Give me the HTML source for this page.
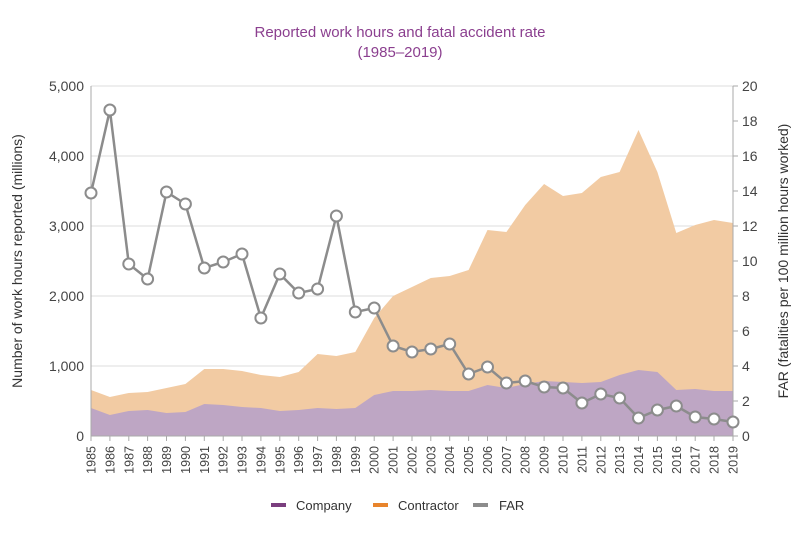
<!DOCTYPE html>
<html><head><meta charset="utf-8"><style>body{margin:0;background:#fff}svg{font-family:"Liberation Sans",Arial,sans-serif}</style></head><body>
<svg width="800" height="533" viewBox="0 0 800 533" xmlns="http://www.w3.org/2000/svg">
<rect width="800" height="533" fill="#fff"/>
<text x="400" y="37" text-anchor="middle" font-size="15" fill="#8b3f8f">Reported work hours and fatal accident rate</text>
<text x="400" y="57" text-anchor="middle" font-size="15" fill="#8b3f8f">(1985–2019)</text>
<g stroke="#dcdcdc" stroke-width="1">
<line x1="91" x2="733" y1="86" y2="86"/><line x1="91" x2="733" y1="156" y2="156"/><line x1="91" x2="733" y1="226" y2="226"/><line x1="91" x2="733" y1="296" y2="296"/><line x1="91" x2="733" y1="366" y2="366"/>
</g>
<path fill="#f2cba3" d="M91,390 L109.9,397 128.8,393 147.6,392 166.5,388 185.4,384 204.3,369 223.2,369 242,371 260.9,375 279.8,377 298.7,372 317.6,354 336.4,356 355.3,352 374.2,318 393.1,296 412,287 430.8,278 449.7,276 468.6,270 487.5,230 506.4,232 525.2,205 544.1,184 563,196 581.9,193 600.8,177 619.6,172 638.5,130 657.4,172 676.3,233 695.2,225 714,220 733,223 L733,436 91,436Z"/>
<path fill="#bea6c4" d="M91,408 L109.9,415 128.8,411 147.6,410 166.5,413 185.4,412 204.3,404 223.2,405 242,407 260.9,408 279.8,411 298.7,410 317.6,408 336.4,409 355.3,408 374.2,395 393.1,391 412,391 430.8,390 449.7,391 468.6,391 487.5,385 506.4,388 525.2,384 544.1,381 563,382 581.9,383 600.8,382 619.6,375 638.5,370 657.4,372 676.3,390 695.2,389 714,391 733,391 L733,436 91,436Z"/>
<line x1="91" x2="91" y1="86" y2="436" stroke="#aaa"/>
<line x1="733" x2="733" y1="86" y2="436" stroke="#aaa"/>
<line x1="91" x2="733" y1="436" y2="436" stroke="#aaa"/>
<g stroke="#aaa">
<line x1="91" x2="91" y1="436" y2="441"/><line x1="109.9" x2="109.9" y1="436" y2="441"/><line x1="128.8" x2="128.8" y1="436" y2="441"/><line x1="147.6" x2="147.6" y1="436" y2="441"/><line x1="166.5" x2="166.5" y1="436" y2="441"/><line x1="185.4" x2="185.4" y1="436" y2="441"/><line x1="204.3" x2="204.3" y1="436" y2="441"/><line x1="223.2" x2="223.2" y1="436" y2="441"/><line x1="242" x2="242" y1="436" y2="441"/><line x1="260.9" x2="260.9" y1="436" y2="441"/><line x1="279.8" x2="279.8" y1="436" y2="441"/><line x1="298.7" x2="298.7" y1="436" y2="441"/><line x1="317.6" x2="317.6" y1="436" y2="441"/><line x1="336.4" x2="336.4" y1="436" y2="441"/><line x1="355.3" x2="355.3" y1="436" y2="441"/><line x1="374.2" x2="374.2" y1="436" y2="441"/><line x1="393.1" x2="393.1" y1="436" y2="441"/><line x1="412" x2="412" y1="436" y2="441"/><line x1="430.8" x2="430.8" y1="436" y2="441"/><line x1="449.7" x2="449.7" y1="436" y2="441"/><line x1="468.6" x2="468.6" y1="436" y2="441"/><line x1="487.5" x2="487.5" y1="436" y2="441"/><line x1="506.4" x2="506.4" y1="436" y2="441"/><line x1="525.2" x2="525.2" y1="436" y2="441"/><line x1="544.1" x2="544.1" y1="436" y2="441"/><line x1="563" x2="563" y1="436" y2="441"/><line x1="581.9" x2="581.9" y1="436" y2="441"/><line x1="600.8" x2="600.8" y1="436" y2="441"/><line x1="619.6" x2="619.6" y1="436" y2="441"/><line x1="638.5" x2="638.5" y1="436" y2="441"/><line x1="657.4" x2="657.4" y1="436" y2="441"/><line x1="676.3" x2="676.3" y1="436" y2="441"/><line x1="695.2" x2="695.2" y1="436" y2="441"/><line x1="714" x2="714" y1="436" y2="441"/><line x1="733" x2="733" y1="436" y2="441"/>
<line x1="733" x2="738" y1="86" y2="86"/><line x1="733" x2="738" y1="121" y2="121"/><line x1="733" x2="738" y1="156" y2="156"/><line x1="733" x2="738" y1="191" y2="191"/><line x1="733" x2="738" y1="226" y2="226"/><line x1="733" x2="738" y1="261" y2="261"/><line x1="733" x2="738" y1="296" y2="296"/><line x1="733" x2="738" y1="331" y2="331"/><line x1="733" x2="738" y1="366" y2="366"/><line x1="733" x2="738" y1="401" y2="401"/><line x1="733" x2="738" y1="436" y2="436"/>
</g>
<g font-size="14" fill="#444" text-anchor="end">
<text x="84" y="91">5,000</text><text x="84" y="161">4,000</text><text x="84" y="231">3,000</text><text x="84" y="301">2,000</text><text x="84" y="371">1,000</text><text x="84" y="441">0</text>
</g>
<g font-size="14" fill="#444" text-anchor="start">
<text x="742" y="91">20</text><text x="742" y="126">18</text><text x="742" y="161">16</text><text x="742" y="196">14</text><text x="742" y="231">12</text><text x="742" y="266">10</text><text x="742" y="301">8</text><text x="742" y="336">6</text><text x="742" y="371">4</text><text x="742" y="406">2</text><text x="742" y="441">0</text>
</g>
<text transform="translate(22,261) rotate(-90)" text-anchor="middle" font-size="14" fill="#333">Number of work hours reported (millions)</text>
<text transform="translate(788,261) rotate(-90)" text-anchor="middle" font-size="14" fill="#333">FAR (fatalities per 100 million hours worked)</text>
<g font-size="12.5" fill="#444" text-anchor="end">
<text transform="translate(95.5,446) rotate(-90)">1985</text><text transform="translate(114.4,446) rotate(-90)">1986</text><text transform="translate(133.3,446) rotate(-90)">1987</text><text transform="translate(152.1,446) rotate(-90)">1988</text><text transform="translate(171,446) rotate(-90)">1989</text><text transform="translate(189.9,446) rotate(-90)">1990</text><text transform="translate(208.8,446) rotate(-90)">1991</text><text transform="translate(227.7,446) rotate(-90)">1992</text><text transform="translate(246.5,446) rotate(-90)">1993</text><text transform="translate(265.4,446) rotate(-90)">1994</text><text transform="translate(284.3,446) rotate(-90)">1995</text><text transform="translate(303.2,446) rotate(-90)">1996</text><text transform="translate(322.1,446) rotate(-90)">1997</text><text transform="translate(340.9,446) rotate(-90)">1998</text><text transform="translate(359.8,446) rotate(-90)">1999</text><text transform="translate(378.7,446) rotate(-90)">2000</text><text transform="translate(397.6,446) rotate(-90)">2001</text><text transform="translate(416.5,446) rotate(-90)">2002</text><text transform="translate(435.3,446) rotate(-90)">2003</text><text transform="translate(454.2,446) rotate(-90)">2004</text><text transform="translate(473.1,446) rotate(-90)">2005</text><text transform="translate(492,446) rotate(-90)">2006</text><text transform="translate(510.9,446) rotate(-90)">2007</text><text transform="translate(529.7,446) rotate(-90)">2008</text><text transform="translate(548.6,446) rotate(-90)">2009</text><text transform="translate(567.5,446) rotate(-90)">2010</text><text transform="translate(586.4,446) rotate(-90)">2011</text><text transform="translate(605.3,446) rotate(-90)">2012</text><text transform="translate(624.1,446) rotate(-90)">2013</text><text transform="translate(643,446) rotate(-90)">2014</text><text transform="translate(661.9,446) rotate(-90)">2015</text><text transform="translate(680.8,446) rotate(-90)">2016</text><text transform="translate(699.7,446) rotate(-90)">2017</text><text transform="translate(718.5,446) rotate(-90)">2018</text><text transform="translate(737.5,446) rotate(-90)">2019</text>
</g>
<polyline fill="none" stroke="#8c8c8c" stroke-width="2.5" points="91,193 109.9,110 128.8,264 147.6,279 166.5,192 185.4,204 204.3,268 223.2,262 242,254 260.9,318 279.8,274 298.7,293 317.6,289 336.4,216 355.3,312 374.2,308 393.1,346 412,352 430.8,349 449.7,344 468.6,374 487.5,367 506.4,383 525.2,381 544.1,387 563,388 581.9,403 600.8,394 619.6,398 638.5,418 657.4,410 676.3,406 695.2,417 714,419 733,422"/>
<g fill="#fff" stroke="#8c8c8c" stroke-width="2">
<circle cx="91" cy="193" r="5.5"/><circle cx="109.9" cy="110" r="5.5"/><circle cx="128.8" cy="264" r="5.5"/><circle cx="147.6" cy="279" r="5.5"/><circle cx="166.5" cy="192" r="5.5"/><circle cx="185.4" cy="204" r="5.5"/><circle cx="204.3" cy="268" r="5.5"/><circle cx="223.2" cy="262" r="5.5"/><circle cx="242" cy="254" r="5.5"/><circle cx="260.9" cy="318" r="5.5"/><circle cx="279.8" cy="274" r="5.5"/><circle cx="298.7" cy="293" r="5.5"/><circle cx="317.6" cy="289" r="5.5"/><circle cx="336.4" cy="216" r="5.5"/><circle cx="355.3" cy="312" r="5.5"/><circle cx="374.2" cy="308" r="5.5"/><circle cx="393.1" cy="346" r="5.5"/><circle cx="412" cy="352" r="5.5"/><circle cx="430.8" cy="349" r="5.5"/><circle cx="449.7" cy="344" r="5.5"/><circle cx="468.6" cy="374" r="5.5"/><circle cx="487.5" cy="367" r="5.5"/><circle cx="506.4" cy="383" r="5.5"/><circle cx="525.2" cy="381" r="5.5"/><circle cx="544.1" cy="387" r="5.5"/><circle cx="563" cy="388" r="5.5"/><circle cx="581.9" cy="403" r="5.5"/><circle cx="600.8" cy="394" r="5.5"/><circle cx="619.6" cy="398" r="5.5"/><circle cx="638.5" cy="418" r="5.5"/><circle cx="657.4" cy="410" r="5.5"/><circle cx="676.3" cy="406" r="5.5"/><circle cx="695.2" cy="417" r="5.5"/><circle cx="714" cy="419" r="5.5"/><circle cx="733" cy="422" r="5.5"/>
</g>
<g font-size="13" fill="#333">
<rect x="271" y="503" width="15" height="4" fill="#7a3e7e"/><text x="296" y="510">Company</text>
<rect x="373" y="503" width="15" height="4" fill="#e8842c"/><text x="398" y="510">Contractor</text>
<rect x="473" y="503" width="15" height="4" fill="#8c8c8c"/><text x="499" y="510">FAR</text>
</g>
</svg>
</body></html>
